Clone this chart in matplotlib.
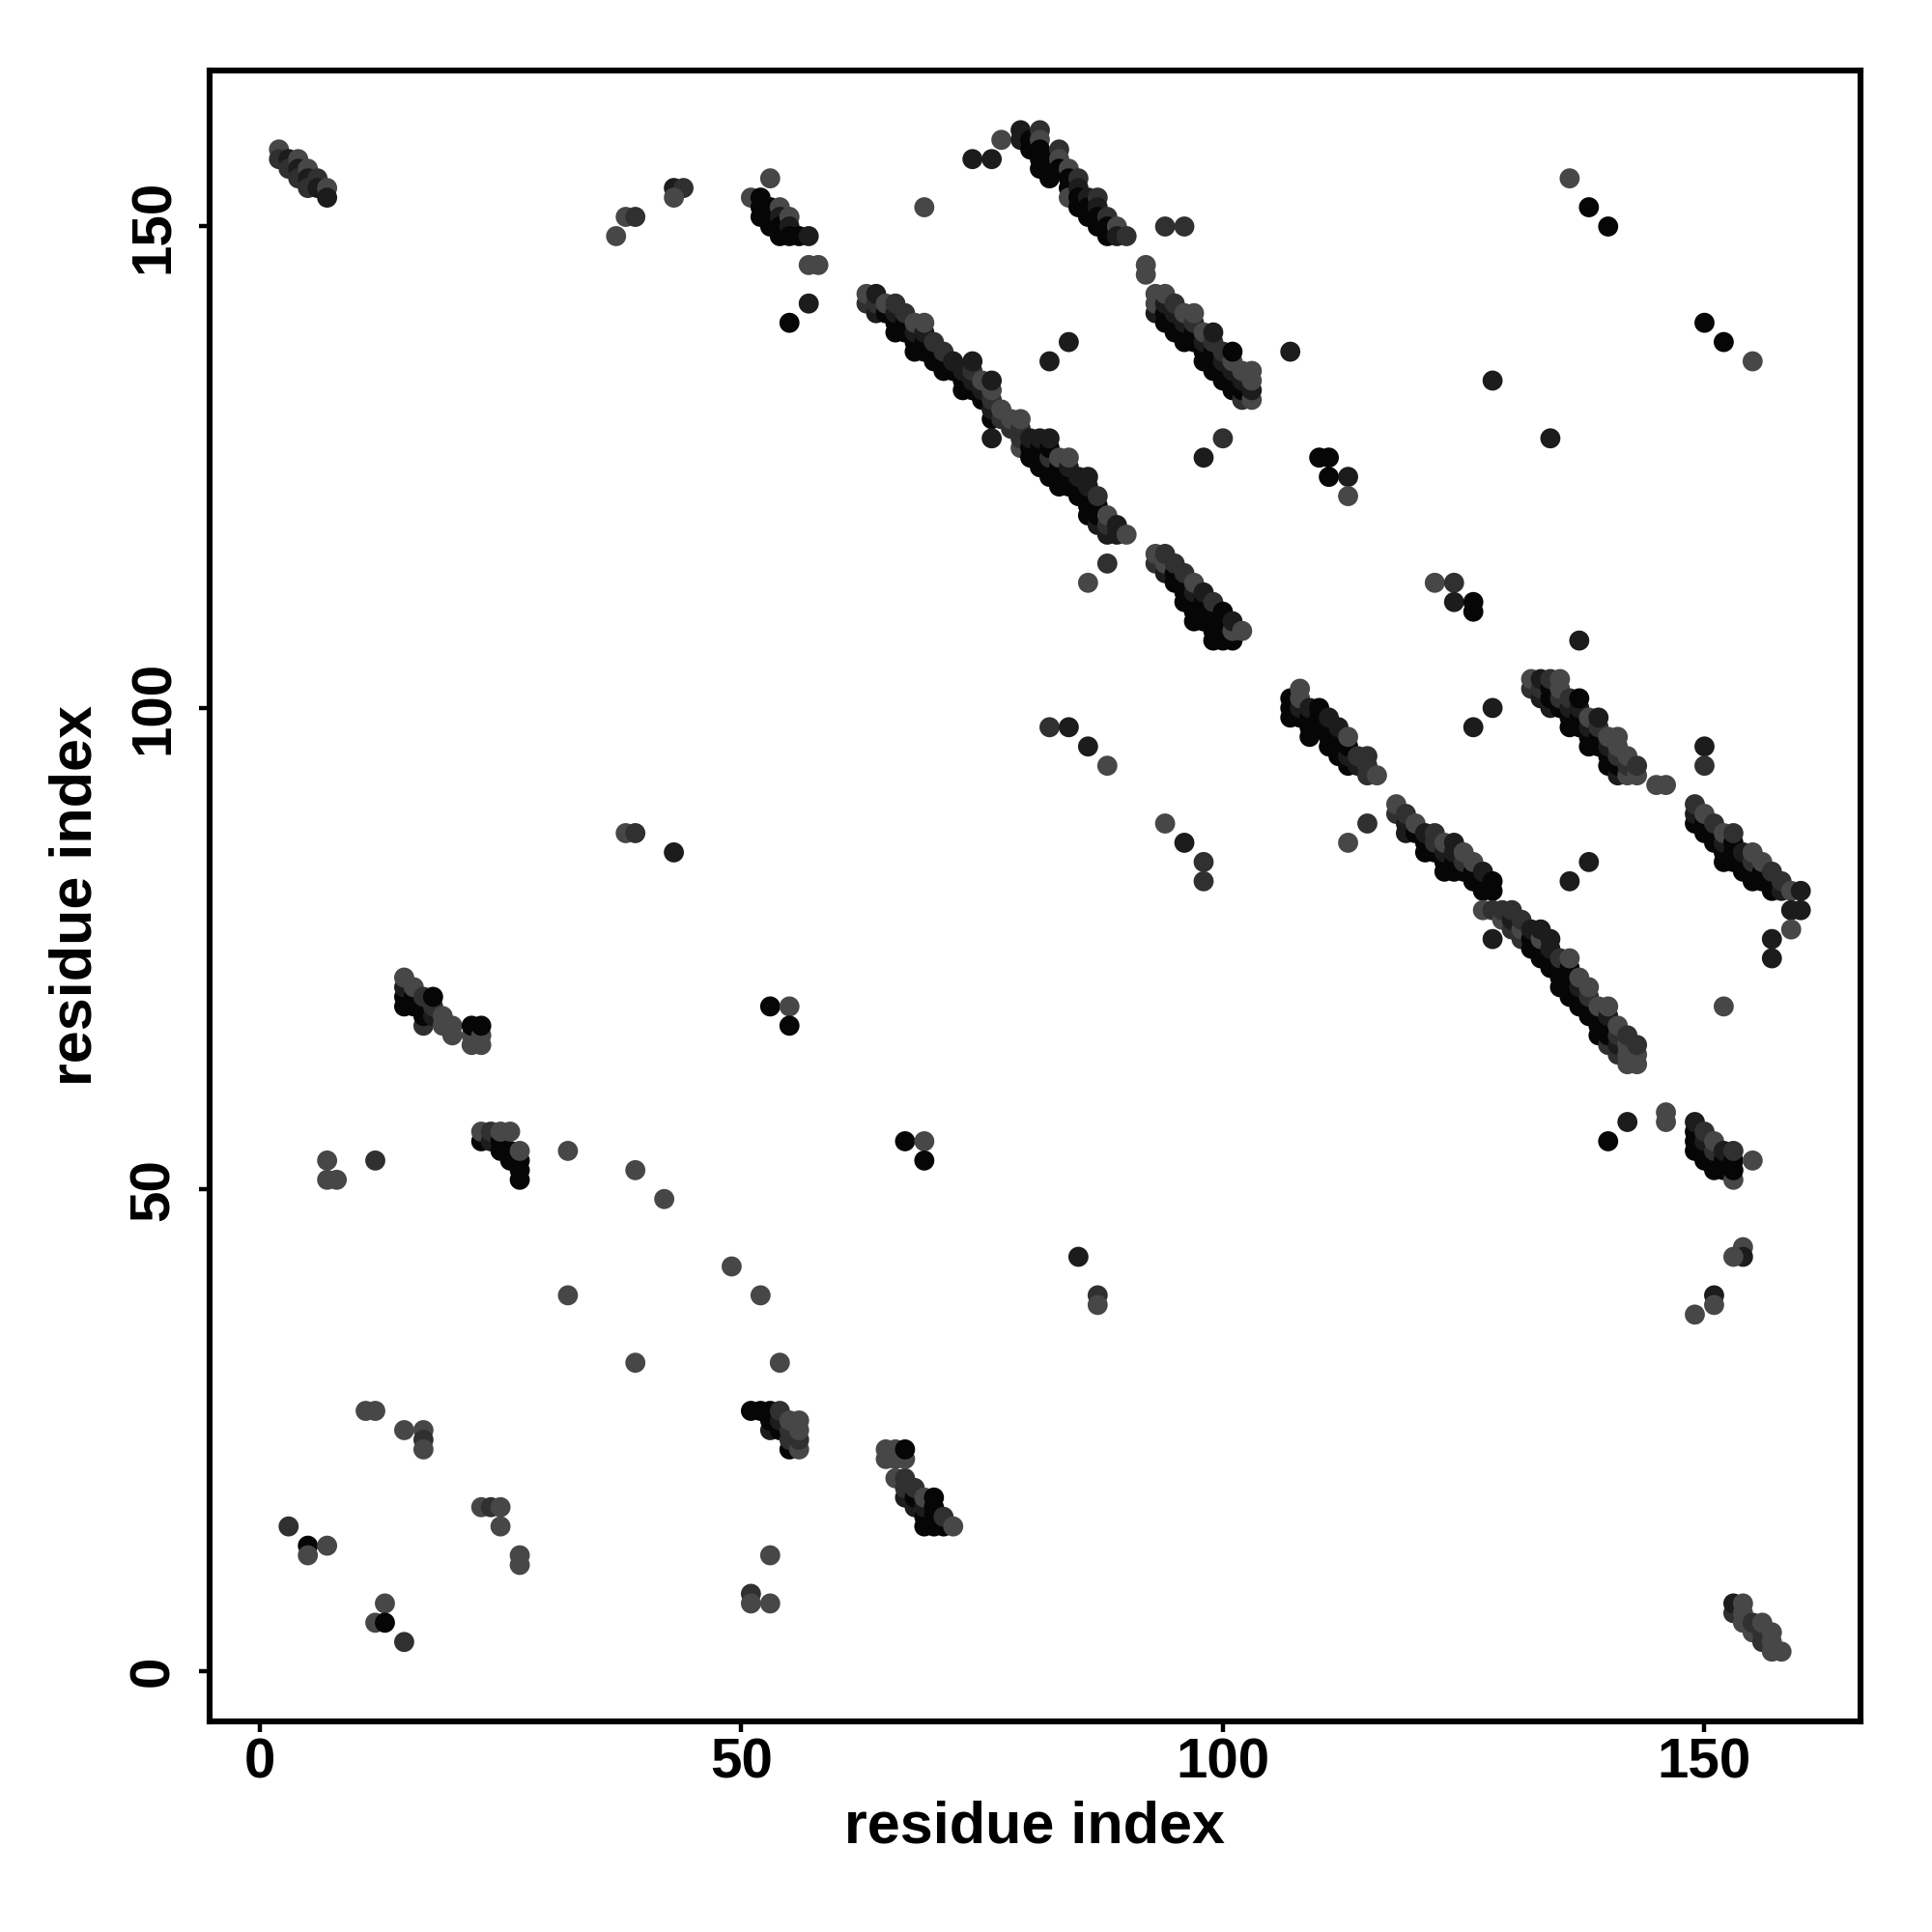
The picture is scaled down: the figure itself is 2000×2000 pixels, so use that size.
import numpy as np
import matplotlib
matplotlib.use("Agg")
from matplotlib import pyplot as plt

# contact points: (residue i, residue j, shade level 0=black .. 3=grey)
band_a = [(2,158,3),(2,157,2),(3,157,1),(3,156,2),(4,157,3),(4,156,1),(4,155,2),(5,156,3),
          (5,155,1),(5,154,2),(6,155,2),(6,154,1),(7,154,3),(7,153,1)]
top_misc = [(37,149,3),(38,151,3),(39,151,2),(43,154,1),(44,154,2),(43,153,3),
            (57,146,3),(58,146,3),(57,142,1),(55,140,0),(69,152,3)]
band_b = [(51,153,3),(52,153,0),(52,152,0),(52,151,0),(53,155,3),(53,152,0),(53,151,0),(53,150,0),
          (54,152,3),(54,151,1),(54,150,0),(54,149,0),(55,151,3),(55,150,1),(55,149,0),(56,149,0),(57,149,1)]
band_c = [(63,142,2),(63,143,3),(64,141,1),(64,142,2),(64,143,1),(65,141,0),(65,142,3),
          (66,139,0),(66,140,0),(66,141,1),(66,142,2),(67,139,0),(67,140,0),(67,141,2),
          (68,137,0),(68,138,0),(68,139,1),(68,140,3),(69,137,0),(69,138,0),(69,139,1),(69,140,3),
          (70,136,0),(70,137,0),(70,138,2),(71,135,0),(71,136,0),(71,137,2),(72,135,0),(72,136,1),
          (73,133,0),(73,134,0),(73,135,1),(74,133,0),(74,134,1),(74,135,2),(74,136,1),
          (75,132,0),(75,133,1),(75,134,3),(76,130,0),(76,131,1),(76,132,2),(76,133,3),(76,134,1),
          (77,130,2),(77,131,3),(78,129,2),(78,130,3),(79,127,3),(79,128,2),(79,129,2),(79,130,3),
          (80,126,0),(80,127,0),(80,128,1),(81,125,0),(81,126,0),(81,127,0),(81,128,1),(76,128,1)]
band_d = [(74,157,1),(76,157,1),(77,159,3),(79,160,1),(79,159,1),(80,159,0),(80,158,0),(81,160,2),
          (81,159,3),(81,158,0),(81,157,0),(81,156,0),(82,157,0),(82,156,0),(82,155,0),(83,158,2),
          (83,157,3),(83,156,0),(84,156,3),(84,155,0),(84,154,0),(84,153,3),(85,155,2),(85,154,1),
          (85,153,0),(85,152,0),(86,153,1),(86,152,0),(86,151,0),(87,153,2),(87,152,1),(87,151,0),
          (87,150,0),(88,151,2),(88,150,0),(88,149,0),(89,150,3),(89,149,1),(90,149,2)]
mid_misc = [(94,150,2),(96,150,2),(92,146,3),(92,145,3),(84,138,1),(82,136,1),(107,137,1),
            (100,128,2),(98,126,1),(110,126,0),(111,126,0),(111,124,0),(113,124,1),(113,122,3),
            (88,115,2),(86,113,3),(122,113,3),(124,113,2),(124,111,1),(126,111,0),(126,110,0)]
band_e = [(93,141,1),(93,142,3),(93,143,3),(94,140,0),(94,141,0),(94,142,1),(94,143,3),
          (95,139,0),(95,140,0),(95,141,1),(95,142,2),(96,138,0),(96,139,0),(96,140,1),(96,141,3),
          (97,138,0),(97,139,0),(97,140,2),(97,141,3),(98,136,0),(98,137,0),(98,138,1),(98,139,3),
          (99,135,0),(99,136,0),(99,137,0),(99,138,2),(99,139,1),(100,134,0),(100,135,0),(100,136,1),
          (100,137,2),(101,133,0),(101,134,0),(101,135,1),(101,136,3),(101,137,0),(102,132,2),
          (102,133,0),(102,134,1),(102,135,3),(103,132,3),(103,133,1),(103,134,3),(103,135,3)]
band_f = [(82,124,0),(82,125,0),(82,126,2),(82,127,0),(82,128,1),(83,123,0),(83,124,0),(83,125,0),
          (83,126,3),(84,123,0),(84,124,0),(84,125,1),(84,126,3),(85,122,0),(85,123,0),(85,124,1),
          (86,120,0),(86,121,0),(86,122,0),(86,123,1),(86,124,1),(87,119,1),(87,120,0),(87,121,0),
          (87,122,2),(88,118,1),(88,119,2),(88,120,3),(89,118,1),(89,119,1),(90,118,3)]
band_g = [(93,115,2),(93,116,3),(94,114,1),(94,115,3),(94,116,2),(95,113,0),(95,114,0),(95,115,2),
          (96,111,0),(96,112,0),(96,113,0),(96,114,2),(97,109,0),(97,110,0),(97,111,0),(97,112,1),
          (97,113,3),(98,109,0),(98,110,0),(98,111,0),(98,112,1),(99,107,0),(99,108,0),(99,109,0),
          (99,110,0),(99,111,2),(100,107,0),(100,108,0),(100,109,0),(100,110,0),(101,107,0),
          (101,108,3),(101,109,1),(102,108,3)]
band_h = [(132,102,2),(132,103,3),(133,101,1),(133,102,2),(133,103,1),(134,100,1),(134,101,0),
          (134,102,0),(134,103,2),(135,100,0),(135,101,2),(135,102,3),(135,103,3),(136,98,0),
          (136,99,0),(136,100,1),(136,101,2),(137,98,0),(137,99,0),(137,100,1),(137,101,0),
          (138,96,0),(138,97,0),(138,98,1),(138,99,3),(139,96,0),(139,97,0),(139,98,2),(139,99,1),
          (140,94,0),(140,95,0),(140,96,1),(140,97,3),(141,93,1),(141,94,0),(141,95,2),(141,96,3),
          (141,97,3),(142,93,3),(142,94,2),(142,95,3),(143,93,3),(143,94,2),(145,92,3),(146,92,3)]
band_i = [(149,88,0),(149,89,1),(149,90,2),(150,87,0),(150,88,0),(150,89,3),(151,86,0),(151,87,0),
          (151,88,2),(152,84,0),(152,85,0),(152,86,1),(152,87,3),(153,84,0),(153,85,0),(153,86,0),
          (153,87,2),(154,83,0),(154,84,0),(154,85,1),(155,82,0),(155,83,0),(155,84,2),(155,85,3),
          (156,82,0),(156,83,0),(156,84,3),(157,81,0),(157,82,0),(157,83,2),(158,81,1),(158,82,2),
          (159,81,3),(160,81,1),(159,79,1),(160,79,1),(159,77,3),(157,76,1),(157,74,1),(152,69,3)]
band_j = [(118,89,2),(118,90,3),(119,87,1),(119,88,1),(119,89,2),(120,87,0),(120,88,3),
          (121,85,0),(121,86,0),(121,87,1),(122,85,0),(122,86,2),(122,87,2),(123,83,0),(123,84,0),
          (123,85,1),(123,86,3),(124,83,0),(124,84,0),(124,85,1),(124,86,1),(125,83,0),(125,84,2),
          (125,85,3),(126,82,0),(126,83,0),(126,84,3),(127,81,0),(127,82,0),(127,83,1),(127,79,3),
          (128,81,0),(128,82,0),(128,79,2),(129,78,3),(129,79,2),(130,77,2),(130,78,1),(130,79,2),
          (131,76,2),(131,77,3),(131,78,2),(132,75,0),(132,76,0),(132,77,1),(133,74,0),(133,75,0),
          (133,76,3),(133,77,1),(134,73,0),(134,74,0),(134,75,1),(134,76,1),(135,71,0),(135,72,0),
          (135,73,0),(135,74,2),(136,70,0),(136,71,0),(136,72,0),(136,73,0),(136,74,3),(137,69,0),
          (137,70,0),(137,71,1),(137,72,3),(138,68,0),(138,69,0),(138,70,2),(138,71,3),(139,66,0),
          (139,67,0),(139,68,0),(139,69,3),(140,65,2),(140,66,0),(140,67,0),(140,68,1),(140,69,3),
          (141,64,2),(141,65,1),(141,66,2),(141,67,3),(142,63,3),(142,64,3),(142,65,3),(142,66,2),
          (143,63,3),(143,64,3),(143,65,2),(128,76,1),(136,82,1),(138,84,1)]
band_k = [(107,99,0),(107,100,0),(107,101,0),(108,99,0),(108,100,1),(108,101,3),(108,102,3),
          (109,97,0),(109,98,0),(109,99,0),(109,100,1),(110,98,0),(110,99,0),(110,100,0),
          (111,96,0),(111,97,0),(111,98,0),(111,99,1),(112,95,0),(112,96,0),(112,97,0),(112,98,1),
          (113,94,0),(113,95,1),(113,96,0),(113,97,3),(114,94,1),(114,95,2),(115,93,2),(115,94,2),
          (115,95,2),(116,93,3)]
right_misc = [(82,98,2),(84,98,1),(86,96,1),(88,94,3),(94,88,3),(96,86,1),(98,84,2),(98,82,2),
              (115,88,2),(113,86,3),(136,155,3),(138,152,0),(140,150,0),(150,140,0),(152,138,0),
              (155,136,3),(128,134,1),(134,128,1),(137,107,1),(128,100,1),(126,98,1),(150,96,1),
              (150,94,2),(142,57,1),(140,55,0),(146,58,3),(146,57,3),(154,44,3),(154,43,1),
              (153,43,3),(151,39,1),(151,38,3),(149,37,3)]
band_l = [(149,54,0),(149,55,0),(149,56,0),(149,57,1),(150,53,0),(150,54,0),(150,55,1),(150,56,2),
          (151,52,0),(151,53,0),(151,54,2),(151,55,3),(152,52,0),(152,53,0),(152,54,1),(153,51,3),
          (153,52,0),(153,53,0),(153,54,2),(155,53,3)]
band_m = [(153,6,2),(153,7,1),(154,5,3),(154,6,3),(154,7,3),(155,4,3),(155,5,2),(156,3,2),
          (156,4,2),(156,5,3),(157,2,3),(157,3,3),(157,4,3),(158,2,3)]
band_n = [(23,55,0),(23,56,3),(24,55,1),(24,56,2),(25,54,0),(25,55,0),(25,56,3),(26,53,0),
          (26,54,0),(26,56,3),(27,51,0),(27,52,0),(27,53,0),(27,54,3)]
band_q = [(15,69,0),(15,70,0),(15,71,1),(15,72,3),(16,69,0),(16,70,0),(16,71,3),(17,67,2),
          (17,68,0),(17,69,0),(17,70,2),(18,68,1),(18,69,2),(18,70,0),(19,67,3),(19,68,3),
          (20,66,3),(20,67,3),(22,65,3),(22,66,3),(22,67,0),(23,65,3),(23,66,3),(23,67,0)]
low_misc = [(7,53,3),(12,53,2),(7,51,3),(8,51,3),(32,54,3),(32,39,3),(39,52,3),(42,49,3),
            (49,42,3),(52,39,3),(39,32,3),(54,32,3),(11,27,3),(12,27,3),(15,25,3),(17,25,3),
            (17,24,2),(17,23,3),(23,17,3),(24,17,2),(25,17,3),(25,15,3),(27,12,3),(27,11,3),
            (3,15,2),(5,13,0),(5,12,3),(7,13,3),(13,7,3),(12,5,3),(13,5,0),(15,3,2),(51,8,2),
            (51,7,3),(53,7,3),(53,12,3),(38,87,3),(39,87,2),(43,85,1),(53,69,0),(55,69,3),
            (55,67,0),(67,55,0),(69,55,3),(69,53,0),(85,43,1),(87,39,2),(87,38,3)]
band_o = [(51,27,0),(52,27,0),(53,25,1),(53,26,0),(53,27,0),(54,25,0),(54,26,1),(54,27,2),
          (55,23,0),(55,24,2),(55,25,2),(55,26,3),(56,23,3),(56,24,2),(56,25,3),(56,26,3)]
band_p = [(65,22,3),(65,23,3),(66,20,3),(66,22,3),(66,23,3),(67,18,1),(67,19,2),(67,20,2),
          (67,22,3),(67,23,0),(68,17,1),(68,18,0),(68,19,2),(69,15,0),(69,16,0),(69,17,1),
          (69,18,3),(70,15,0),(70,16,0),(70,17,0),(70,18,0),(71,15,0),(71,16,2),(72,15,3)]

shades = ["#060606", "#1c1c1c", "#303030", "#474747"]

groups = [band_a, top_misc, band_b, band_c, band_d, mid_misc, band_e, band_f, band_g,
          band_h, band_i, band_j, band_k, right_misc, band_l, band_m, band_n, band_q,
          low_misc, band_o, band_p]
pts = np.array([p for g in groups for p in g])

plt.rcParams['font.family'] = ['Liberation Sans', 'DejaVu Sans']
plt.rcParams['font.weight'] = 'bold'

fig = plt.figure(figsize=(10, 10), dpi=200)
ax = fig.add_axes([0.1085, 0.109, 0.8545, 0.8545])

ax.scatter(pts[:, 0], pts[:, 1], c=[shades[int(s)] for s in pts[:, 2]], s=56, linewidths=0)

ax.set_xlim(-5.2, 166.2)
ax.set_ylim(-5.25, 166.2)
ax.set_xticks([0, 50, 100, 150])
ax.set_yticks([0, 50, 100, 150])
ax.tick_params(axis='both', length=4, width=1.6, labelsize=21)
ax.tick_params(axis='x', pad=2)
ax.tick_params(axis='y', pad=7)
for lab in ax.get_yticklabels():
    lab.set_rotation(90)
    lab.set_va('center')
for sp in ax.spines.values():
    sp.set_linewidth(2.2)

ax.set_xlabel("residue index", fontsize=22, fontweight='bold')
ax.set_ylabel("residue index", fontsize=22, fontweight='bold')
ax.xaxis.set_label_coords(0.5, -0.0644)
ax.xaxis.label.set_va('center')
ax.yaxis.set_label_coords(-0.0807, 0.5)
ax.yaxis.label.set_va('center')

fig.savefig("out.png", dpi=200)
